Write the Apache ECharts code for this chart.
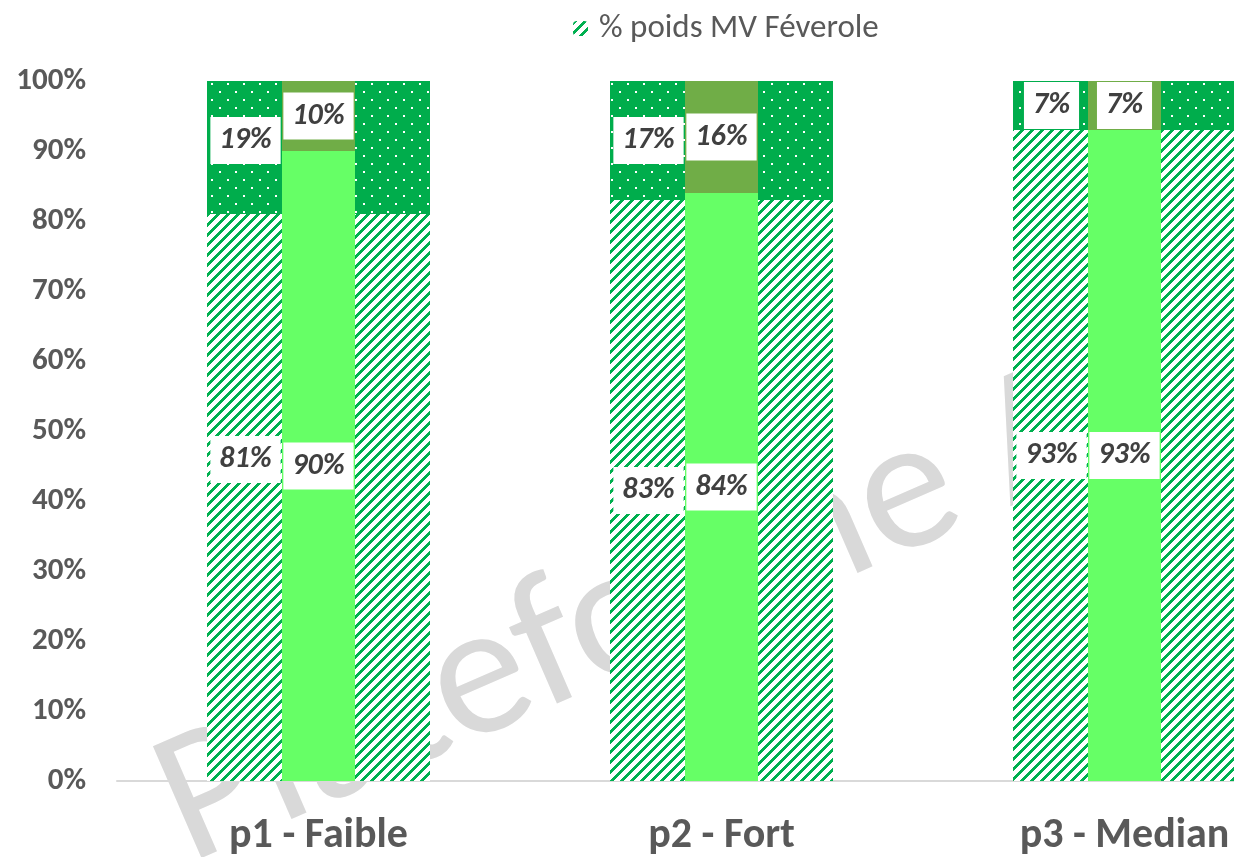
<!DOCTYPE html>
<html>
<head>
<meta charset="utf-8">
<script src="https://cdn.jsdelivr.net/npm/echarts@6/dist/echarts.min.js"></script>
<style>
html,body{margin:0;padding:0;background:#fff;overflow:hidden;width:1234px;height:857px;}
#chart{width:1326px;height:857px;}
</style>
</head>
<body>
<div id="chart"></div>
<script>
// ---- data ----
const categories = ['p1 - Faible', 'p2 - Fort', 'p3 - Median'];
const feveroleMV = [81, 83, 93];
const autresMV = [19, 17, 7];
const feveroleMS = [90, 84, 93];
const autresMS = [10, 16, 7];
const yTicks = [0, 10, 20, 30, 40, 50, 60, 70, 80, 90, 100];

const legendName = '% poids MV Féverole';

// ---- patterns ----
function stripeTile() {
  const n = 10;
  const c = document.createElement('canvas');
  c.width = n; c.height = n;
  const ctx = c.getContext('2d');
  ctx.fillStyle = '#ffffff';
  ctx.fillRect(0, 0, n, n);
  ctx.fillStyle = '#00B050';
  for (let x = 0; x < n; x++) {
    for (let y = 0; y < n; y++) {
      if ((x + y) % n < 4) ctx.fillRect(x, y, 1, 1);
    }
  }
  return c;
}
function dotTile() {
  const c = document.createElement('canvas');
  c.width = 16; c.height = 16;
  const ctx = c.getContext('2d');
  ctx.fillStyle = '#00AD4C';
  ctx.fillRect(0, 0, 16, 16);
  ctx.fillStyle = '#ffffff';
  ctx.fillRect(3, 3, 2, 2);
  ctx.fillRect(11, 11, 2, 2);
  return c;
}

const FONT = 'Carlito, Lato, sans-serif';
const labelBase = {
  show: true,
  formatter: '{c}%',
  fontFamily: FONT,
  fontSize: 30,
  fontWeight: 'bold',
  fontStyle: 'italic',
  color: '#404040',
  backgroundColor: '#ffffff',
  padding: [9, 9, 8, 9]
};

const chart = echarts.init(document.getElementById('chart'), null, {renderer: 'canvas'});

const wideOffsetX = -73;

const option = {
  animation: false,
  backgroundColor: '#ffffff',
  legend: {
    data: [legendName],
    left: 568,
    top: 7,
    itemWidth: 15,
    itemHeight: 15,
    itemGap: 12,
    textStyle: {fontFamily: FONT, fontSize: 33, color: '#595959', padding: [0, 0, 0, 6]}
  },
  grid: {left: 117, right: 0, top: 81, bottom: 75, containLabel: false},
  xAxis: [
    {
      type: 'category',
      data: categories,
      axisLine: {lineStyle: {color: '#d9d9d9', width: 2}},
      axisTick: {show: false},
      axisLabel: {fontFamily: FONT, fontSize: 42, fontWeight: 'bold', color: '#595959', margin: 34}
    },
    {
      type: 'category',
      data: categories,
      show: false,
      position: 'bottom'
    }
  ],
  yAxis: {
    type: 'value',
    min: yTicks[0],
    max: yTicks[yTicks.length - 1],
    interval: 10,
    axisLine: {show: false},
    axisTick: {show: false},
    splitLine: {show: false},
    axisLabel: {
      formatter: '{value}%',
      fontFamily: FONT, fontSize: 31, fontWeight: 'bold', color: '#595959', margin: 31
    }
  },
  graphic: [{
    type: 'text',
    x: 170,
    y: 820,
    rotation: 23.5 * Math.PI / 180,
    z: 0,
    silent: true,
    style: {
      text: 'Plateforme A',
      fontFamily: FONT,
      fontSize: 190,
      fill: '#d9d9d9',
      align: 'left',
      verticalAlign: 'middle'
    }
  }],
  series: [
    {
      name: legendName,
      type: 'bar',
      xAxisIndex: 0,
      stack: 'mv',
      barWidth: 223,
      itemStyle: {color: {image: stripeTile(), repeat: 'repeat'}},
      label: Object.assign({}, labelBase, {position: 'inside', offset: [wideOffsetX, 0]}),
      data: feveroleMV.map((v, i) => i === 0 ? {value: v, label: {offset: [wideOffsetX, -38]}} : v)
    },
    {
      name: '% poids MV autres',
      type: 'bar',
      xAxisIndex: 0,
      stack: 'mv',
      barWidth: 223,
      itemStyle: {color: {image: dotTile(), repeat: 'repeat'}},
      label: Object.assign({}, labelBase, {position: 'inside', offset: [wideOffsetX, 0]}),
      data: autresMV.map((v, i) => i === 0 ? {value: v, label: {offset: [wideOffsetX, -7]}} : v)
    },
    {
      name: '% poids MS Féverole',
      type: 'bar',
      xAxisIndex: 1,
      stack: 'ms',
      barWidth: 73,
      itemStyle: {color: '#66FF66'},
      label: Object.assign({}, labelBase, {position: 'inside'}),
      data: feveroleMS
    },
    {
      name: '% poids MS autres',
      type: 'bar',
      xAxisIndex: 1,
      stack: 'ms',
      barWidth: 73,
      itemStyle: {color: '#70AD47'},
      label: Object.assign({}, labelBase, {position: 'inside'}),
      data: autresMS
    }
  ]
};
chart.setOption(option);
</script>
</body>
</html>
